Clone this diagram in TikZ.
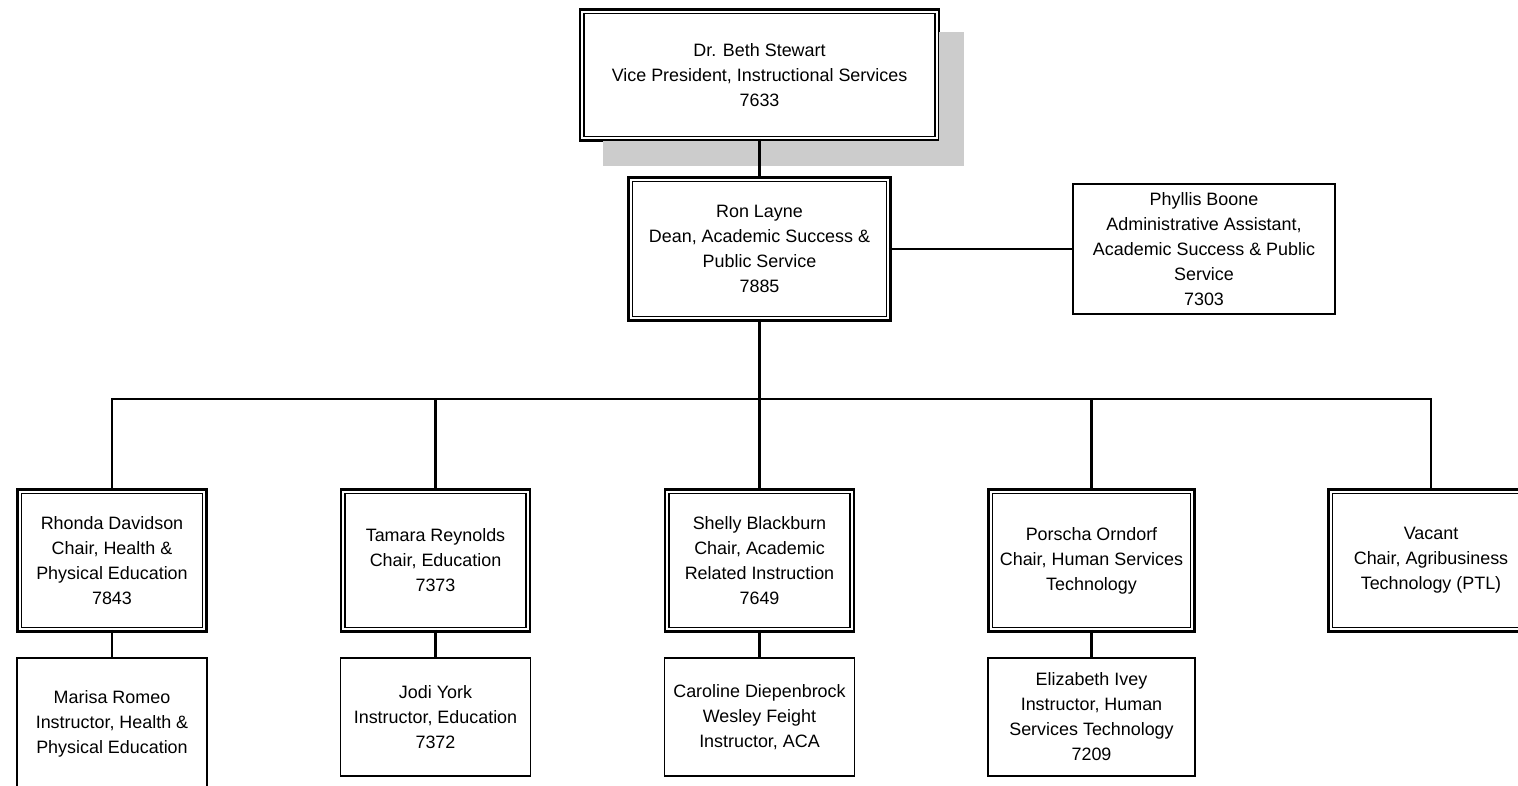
\documentclass[tikz,border=0pt]{standalone}
\usepackage{fontspec}
\setmainfont{Liberation Sans}
\usetikzlibrary{positioning,shadows}

\begin{document}
\begin{tikzpicture}[%
    x=0.02cm, y=-0.02cm,        % one unit is one pixel of the layout
    font=\fontsize{10.2}{14.2}\selectfont,
    every node/.style={align=center, inner sep=0pt}
    ]

\tikzset{
    base/.style={draw, rectangle, align=center, line width=1.1pt},
    % thick outer frame with a thin frame just inside it
    head/.style={base, fill=white, line width=0.8pt, double, double distance=1.2pt,
      preaction={draw, line width=4.4pt}},
    topbox/.style={head, minimum width=7.085cm, minimum height=2.525cm,
      general shadow={fill=black!20, draw=black!20, line width=4.4pt,
        shadow xshift=0.48cm, shadow yshift=-0.48cm}},
    dean/.style={head, minimum width=5.145cm, minimum height=2.765cm},
    chair/.style={head, minimum width=3.685cm, minimum height=2.745cm},
    staff/.style={base, minimum width=3.8cm, minimum height=2.36cm},
    % connector lines
    link/.style={line width=1.2pt}
}

\useasboundingbox (0,0) rectangle (1518,786);
\clip (0,0) rectangle (1518,786);

%% Top
\node [topbox] (vp) at (759.5,75) {Dr. Beth Stewart\\Vice President, Instructional Services\\7633};
\node [dean] (dean) at (759.5,249) {Ron Layne\\Dean, Academic Success \&\\Public Service\\7885};
    \draw [link] (vp) -- (dean);
\node [base, minimum width=5.25cm, minimum height=2.6cm] (asst) at (1204,249)
    {Phyllis Boone\\Administrative Assistant,\\Academic Success \& Public\\Service\\7303};
    \draw [link] (dean) -- (asst);

%% Bus
\coordinate (bus) at (759.5,399);
    \draw [link] (dean) -- (bus);

%% Chairs
\node [chair] (hpe) at (112,560.5) {Rhonda Davidson\\Chair, Health \&\\Physical Education\\7843};
    \draw [link] (bus) -| (hpe);
\node [chair] (edu) at (435.5,560.5) {Tamara Reynolds\\Chair, Education\\7373};
    \draw [link] (bus) -| (edu);
\node [chair] (aca) at (759.5,560.5) {Shelly Blackburn\\Chair, Academic\\Related Instruction\\7649};
    \draw [link] (bus) -- (aca);
\node [chair, minimum width=4.025cm] (hst) at (1091.5,560.5) {Porscha Orndorf\\Chair, Human Services\\Technology};
    \draw [link] (bus) -| (hst);
\node [chair, minimum width=4.005cm] (agr) at (1431,560.5) {Vacant\\Chair, Agribusiness\\Technology (PTL)};
    \draw [link] (bus) -| (agr);

%% Instructors
\node [staff, minimum height=2.62cm] (ihpe) at (112,723.5) {Marisa Romeo\\Instructor, Health \&\\Physical Education};
    \draw [link] (hpe) -- (ihpe);
\node [staff] (iedu) at (435.5,717) {Jodi York\\Instructor, Education\\7372};
    \draw [link] (edu) -- (iedu);
\node [staff] (iaca) at (759.5,717) {Caroline Diepenbrock\\Wesley Feight\\Instructor, ACA};
    \draw [link] (aca) -- (iaca);
\node [staff, minimum width=4.14cm] (ihst) at (1091.5,717) {Elizabeth Ivey\\Instructor, Human\\Services Technology\\7209};
    \draw [link] (hst) -- (ihst);
\end{tikzpicture}
\end{document}
